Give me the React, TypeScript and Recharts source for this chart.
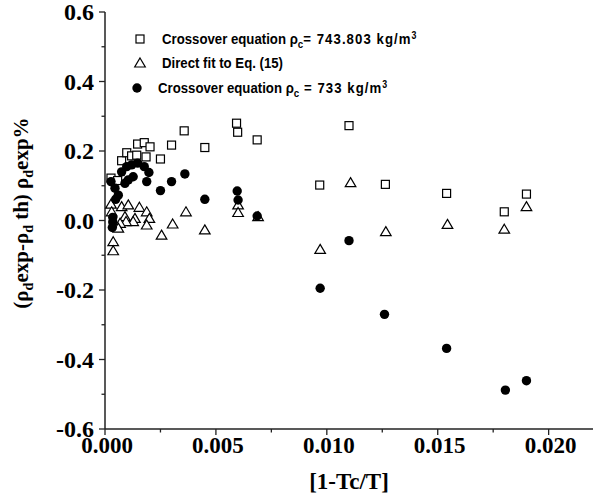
import { ScatterChart, Scatter, XAxis, YAxis } from "recharts";

// [1-Tc/T] vs relative deviation (%)
const crossover743 = [
  { x: 0.00027, y: 0.122 },
  { x: 0.00057, y: 0.115 },
  { x: 0.00075, y: 0.172 },
  { x: 0.00098, y: 0.195 },
  { x: 0.0012, y: 0.186 },
  { x: 0.00143, y: 0.188 },
  { x: 0.00147, y: 0.22 },
  { x: 0.00177, y: 0.224 },
  { x: 0.00203, y: 0.212 },
  { x: 0.00185, y: 0.183 },
  { x: 0.0025, y: 0.177 },
  { x: 0.003, y: 0.217 },
  { x: 0.00357, y: 0.258 },
  { x: 0.0045, y: 0.21 },
  { x: 0.00593, y: 0.28 },
  { x: 0.00598, y: 0.254 },
  { x: 0.00686, y: 0.232 },
  { x: 0.00968, y: 0.102 },
  { x: 0.011, y: 0.273 },
  { x: 0.01264, y: 0.104 },
  { x: 0.0154, y: 0.078 },
  { x: 0.018, y: 0.025 },
  { x: 0.019, y: 0.076 },
];

const directFit = [
  { x: 0.00027, y: 0.047 },
  { x: 0.00075, y: 0.04 },
  { x: 0.00105, y: 0.045 },
  { x: 0.00155, y: 0.038 },
  { x: 0.00188, y: 0.025 },
  { x: 0.002, y: 0.006 },
  { x: 0.00188, y: -0.013 },
  { x: 0.00135, y: 0.006 },
  { x: 0.00127, y: -0.003 },
  { x: 0.0009, y: 0.011 },
  { x: 0.00095, y: -0.003 },
  { x: 0.00068, y: -0.008 },
  { x: 0.0006, y: -0.022 },
  { x: 0.0003, y: 0.025 },
  { x: 0.00037, y: -0.061 },
  { x: 0.00037, y: -0.087 },
  { x: 0.00255, y: -0.042 },
  { x: 0.00305, y: -0.01 },
  { x: 0.00365, y: 0.025 },
  { x: 0.0045, y: -0.027 },
  { x: 0.006, y: 0.045 },
  { x: 0.006, y: 0.023 },
  { x: 0.0069, y: 0.011 },
  { x: 0.0097, y: -0.083 },
  { x: 0.01107, y: 0.109 },
  { x: 0.01266, y: -0.032 },
  { x: 0.01544, y: -0.011 },
  { x: 0.018, y: -0.025 },
  { x: 0.019, y: 0.04 },
];

const crossover733 = [
  { x: 0.00027, y: 0.112 },
  { x: 0.00045, y: 0.093 },
  { x: 0.0006, y: 0.073 },
  { x: 0.00048, y: 0.061 },
  { x: 0.00075, y: 0.14 },
  { x: 0.00098, y: 0.155 },
  { x: 0.0012, y: 0.16 },
  { x: 0.00147, y: 0.165 },
  { x: 0.00177, y: 0.155 },
  { x: 0.00198, y: 0.138 },
  { x: 0.00188, y: 0.112 },
  { x: 0.00105, y: 0.117 },
  { x: 0.0009, y: 0.107 },
  { x: 0.00127, y: 0.126 },
  { x: 0.0025, y: 0.086 },
  { x: 0.003, y: 0.112 },
  { x: 0.0036, y: 0.134 },
  { x: 0.0045, y: 0.061 },
  { x: 0.00596, y: 0.085 },
  { x: 0.006, y: 0.059 },
  { x: 0.00686, y: 0.013 },
  { x: 0.00035, y: 0.009 },
  { x: 0.00035, y: -0.004 },
  { x: 0.00033, y: -0.02 },
  { x: 0.0097, y: -0.195 },
  { x: 0.011, y: -0.058 },
  { x: 0.0126, y: -0.27 },
  { x: 0.0154, y: -0.368 },
  { x: 0.01805, y: -0.488 },
  { x: 0.019, y: -0.461 },
];

const xTicks = [0, 0.0025, 0.005, 0.0075, 0.01, 0.0125, 0.015, 0.0175, 0.02];
const yTicks = [-0.6, -0.5, -0.4, -0.3, -0.2, -0.1, 0, 0.1, 0.2, 0.3, 0.4, 0.5, 0.6];

const serif = "'Liberation Serif', 'Times New Roman', serif";
const sans = "'Liberation Sans', Arial, sans-serif";
const serifStyle = { fontFamily: serif, fontWeight: 700 };

const isMajorX = (v: number) => Math.round(v * 10000) % 50 === 0;
const isMajorY = (v: number) => Math.round(v * 10) % 2 === 0;

const BottomTick = (props: any) => {
  const { x, y, payload } = props;
  const major = isMajorX(payload.value);
  return (
    <g>
      <line x1={x} x2={x} y1={y} y2={y + (major ? 6 : 3.5)} stroke="#222" strokeWidth={1.3} />
      {major && (
        <text x={x + 2} y={y + 24} textAnchor="middle" style={{ ...serifStyle, fontSize: 23 }} fill="#000">
          {payload.value.toFixed(3)}
        </text>
      )}
    </g>
  );
};

const TopTick = (props: any) => {
  const { x, y, payload } = props;
  const major = isMajorX(payload.value);
  return <line x1={x} x2={x} y1={y} y2={y + (major ? 6 : 3.5)} stroke="#222" strokeWidth={1.3} />;
};

const LeftTick = (props: any) => {
  const { x, y, payload } = props;
  const major = isMajorY(payload.value);
  return (
    <g>
      <line x1={x - (major ? 6 : 3.5)} x2={x} y1={y} y2={y} stroke="#222" strokeWidth={1.3} />
      {major && (
        <text x={x - 11} y={y + 8} textAnchor="end" style={{ ...serifStyle, fontSize: 24 }} fill="#000">
          {payload.value.toFixed(1)}
        </text>
      )}
    </g>
  );
};

const SquareDot = (p: any) => (
  <rect x={p.cx - 4} y={p.cy - 4} width={8} height={8} fill="#fff" stroke="#000" strokeWidth={1.2} />
);
const TriangleDot = (p: any) => (
  <path
    d={`M${p.cx},${p.cy - 5} L${p.cx + 5.3},${p.cy + 4} L${p.cx - 5.3},${p.cy + 4} Z`}
    fill="#fff"
    stroke="#000"
    strokeWidth={1.2}
  />
);
const CircleDot = (p: any) => <circle cx={p.cx} cy={p.cy} r={4.7} fill="#000" />;

const subStyle = { fontSize: 11, position: "relative" as const, top: 4 };
const supStyle = { fontSize: 10, position: "relative" as const, top: -5 };
const wide = { letterSpacing: 1.2 };
const rowStyle = {
  position: "absolute" as const,
  height: 24,
  lineHeight: "24px",
  whiteSpace: "nowrap" as const,
  fontFamily: sans,
  fontWeight: 700,
  fontSize: 15,
  color: "#000",
  transform: "scaleX(0.88)",
  transformOrigin: "left center",
};

const LegendBox = () => (
  <>
    <svg width={20} height={100} style={{ position: "absolute", left: 130, top: 27 }}>
      <rect x={6} y={8} width={8} height={8} fill="#fff" stroke="#000" strokeWidth={1.2} />
      <path d="M10,31 L15.3,40 L4.7,40 Z" fill="#fff" stroke="#000" strokeWidth={1.2} />
      <circle cx={7} cy={61} r={4.7} fill="#000" />
    </svg>
    <div style={{ ...rowStyle, left: 162, top: 27 }}>
      Crossover equation ρ<span style={subStyle}>c</span>
      <span style={wide}>= 743.803 kg/m</span>
      <span style={supStyle}>3</span>
    </div>
    <div style={{ ...rowStyle, left: 162, top: 51 }}>Direct fit to Eq. (15)</div>
    <div style={{ ...rowStyle, left: 158, top: 76 }}>
      Crossover equation ρ<span style={subStyle}>c</span>
      <span style={wide}> = 733 kg/m</span>
      <span style={supStyle}>3</span>
    </div>
  </>
);

const YTitle = () => (
  <text
    x={0}
    y={0}
    transform="translate(28, 213) rotate(-90)"
    textAnchor="middle"
    style={{ ...serifStyle, fontSize: 21 }}
    fill="#000"
  >
    (ρ<tspan fontSize={14} dy={5}>d</tspan>
    <tspan dy={-5}>exp-ρ</tspan>
    <tspan fontSize={14} dy={5}>d</tspan>
    <tspan dy={-5}> th) ρ</tspan>
    <tspan fontSize={14} dy={5}>d</tspan>
    <tspan dy={-5}>exp%</tspan>
  </text>
);

const XTitle = (props: any) => {
  const vb = props.viewBox;
  return (
    <text x={vb.x + vb.width / 2} y={489} textAnchor="middle" style={{ ...serifStyle, fontSize: 23 }} fill="#000">
      [1-Tc/T]
    </text>
  );
};

export default function App() {
  return (
    <div style={{ position: "absolute", left: 0, top: 0, width: 596, height: 495, background: "#fff" }}>
      <ScatterChart width={596} height={495} margin={{ top: 12, right: 3, left: 0, bottom: 0 }}>
        <XAxis
          xAxisId="bottom"
          type="number"
          dataKey="x"
          domain={[0, 0.022]}
          ticks={xTicks}
          interval={0}
          height={66}
          tickSize={0}
          tickMargin={0}
          tickLine={false}
          tick={<BottomTick />}
          axisLine={{ stroke: "#222", strokeWidth: 1.5 }}
          label={{ content: <XTitle /> }}
        />
        <XAxis
          xAxisId="top"
          orientation="top"
          type="number"
          dataKey="x"
          domain={[0, 0.022]}
          ticks={xTicks}
          interval={0}
          height={0}
          tickSize={0}
          tickMargin={0}
          tickLine={false}
          tick={<TopTick />}
          axisLine={{ stroke: "#222", strokeWidth: 1.5 }}
        />
        <YAxis
          type="number"
          dataKey="y"
          domain={[-0.6, 0.6]}
          ticks={yTicks}
          interval={0}
          width={105}
          tickSize={0}
          tickMargin={0}
          tickLine={false}
          tick={<LeftTick />}
          axisLine={{ stroke: "#222", strokeWidth: 1.5 }}
          label={{ content: <YTitle /> }}
        />
        <Scatter name="Crossover equation 743.803" data={crossover743} xAxisId="bottom" shape={<SquareDot />} isAnimationActive={false} />
        <Scatter name="Direct fit to Eq. (15)" data={directFit} xAxisId="bottom" shape={<TriangleDot />} isAnimationActive={false} />
        <Scatter name="Crossover equation 733" data={crossover733} xAxisId="bottom" shape={<CircleDot />} isAnimationActive={false} />
      </ScatterChart>
      <LegendBox />
    </div>
  );
}
